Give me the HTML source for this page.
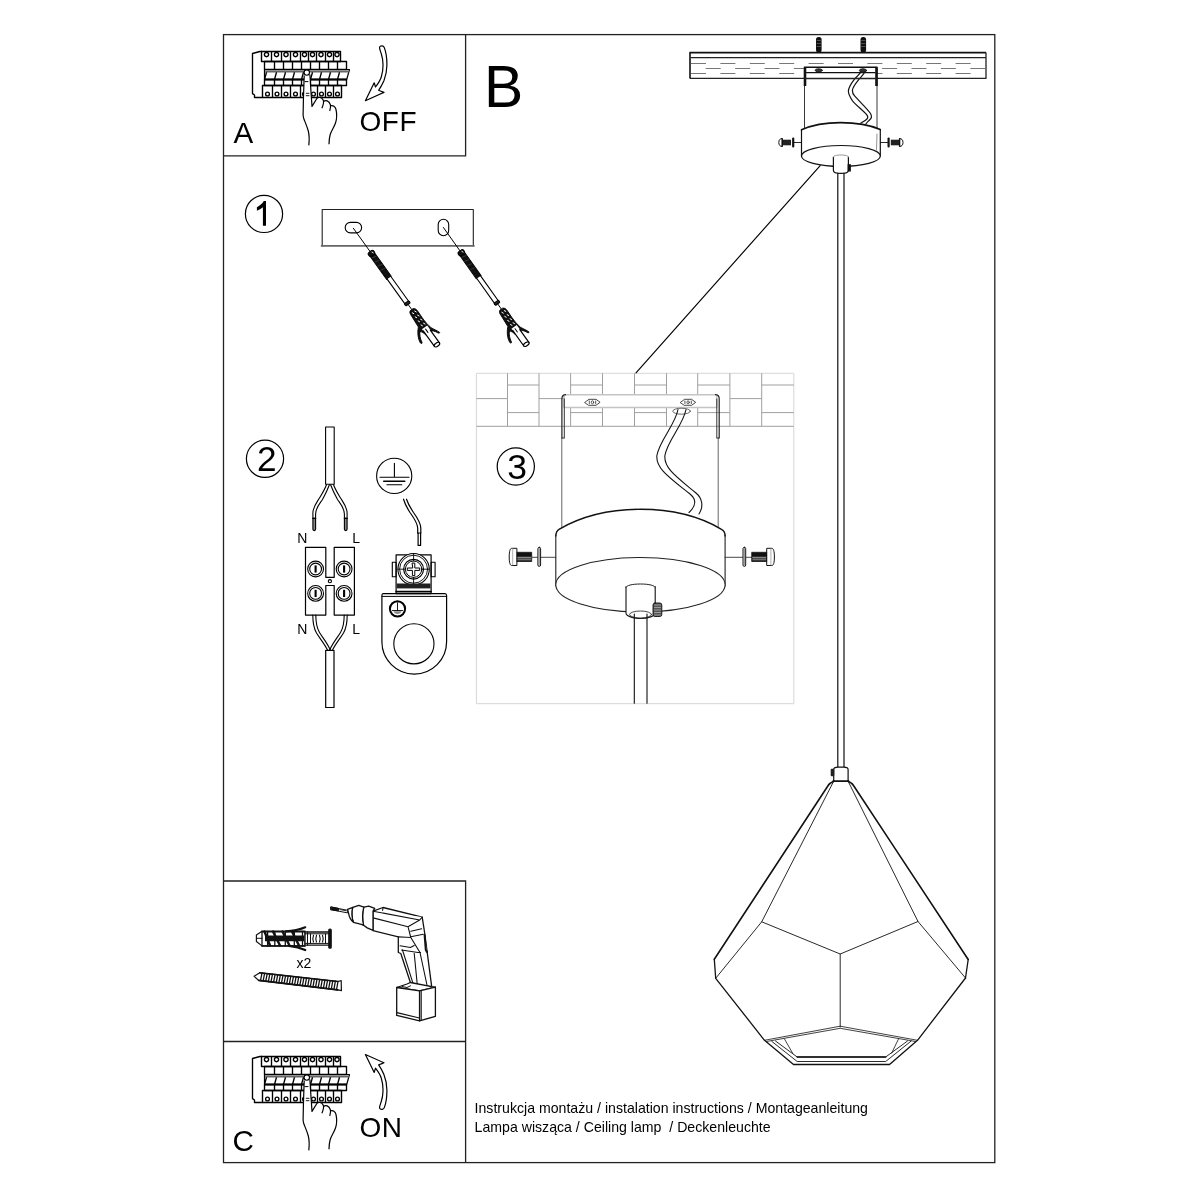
<!DOCTYPE html>
<html><head><meta charset="utf-8">
<style>
html,body{margin:0;padding:0;background:#fff;width:1200px;height:1200px;overflow:hidden}
svg{display:block;font-family:"Liberation Sans",sans-serif;will-change:transform}
text{font-family:"Liberation Sans",sans-serif;fill:#000}
</style></head><body>
<svg width="1200" height="1200" viewBox="0 0 1200 1200" fill="none" stroke="#000" stroke-linejoin="round" stroke-linecap="round">

<g id="frame" stroke="#222" stroke-width="1.3" stroke-linecap="butt" stroke-linejoin="miter">
<rect x="223.5" y="34.6" width="771.3" height="1128"/>
<path d="M223.5 155.8H465.6V34.6"/>
<path d="M223.5 881H465.6V1162.6"/>
<path d="M223.5 1041.5H465.6"/>
</g>
<g transform="translate(0,0)" stroke-width="1.35" stroke-linecap="butt">
<path d="M262.5 97.5H254.5V95L252.5 93.6V53.5L259.9 51.5H262"/>
<rect x="261.5" y="51.5" width="79" height="10" stroke-width="1.4"/>
<path d="M271.5 51.5V61.5M281.5 51.5V61.5M290.5 51.5V61.5M300.5 51.5V61.5M308.5 51.5V61.5M316.5 51.5V61.5M325.5 51.5V61.5M333.5 51.5V61.5"/>
<circle cx="266.5" cy="54.6" r="2.1"/>
<circle cx="276.5" cy="54.6" r="2.1"/>
<circle cx="286" cy="54.6" r="2.1"/>
<circle cx="295.5" cy="54.6" r="2.1"/>
<circle cx="304.5" cy="54.6" r="2.1"/>
<circle cx="312.5" cy="54.6" r="2.1"/>
<circle cx="321" cy="54.6" r="2.1"/>
<circle cx="329.5" cy="54.6" r="2.1"/>
<circle cx="337" cy="54.6" r="2.1"/>
<rect x="264.5" y="61.5" width="82" height="8"/>
<path d="M274.5 61.5V69.5M283.5 61.5V69.5M292.5 61.5V69.5M301.5 61.5V69.5M310.5 61.5V69.5M319.5 61.5V69.5M328.5 61.5V69.5M337.5 61.5V69.5"/>
<path d="M264.5 69.5H349.5L346.7 79.5H264.5Z" stroke-width="1.2"/>
<path d="M265.2 71.5H348.9" stroke="#666" stroke-width="1.8"/>
<path d="M266.5 72.2L264.5 79.5M276.5 72.2L274.5 79.5M285.5 72.2L283.5 79.5M294.5 72.2L292.5 79.5M303.5 72.2L301.5 79.5M312.5 72.2L310.5 79.5M321.5 72.2L319.5 79.5M330.5 72.2L328.5 79.5M339.5 72.2L337.5 79.5"/>
<path d="M264.5 79.5H346.7" stroke-width="2.2"/>
<rect x="264.5" y="79.5" width="82" height="6"/>
<path d="M274.5 79.5V85.5M283.5 79.5V85.5M292.5 79.5V85.5M301.5 79.5V85.5M310.5 79.5V85.5M319.5 79.5V85.5M328.5 79.5V85.5M337.5 79.5V85.5"/>
<rect x="262.5" y="85.5" width="79" height="12" stroke-width="1.4"/>
<path d="M272.5 85.5V97.5M281.5 85.5V97.5M290.5 85.5V97.5M300.5 85.5V97.5M308.5 85.5V97.5M317.5 85.5V97.5M325.5 85.5V97.5M333.5 85.5V97.5"/>
<circle cx="267.5" cy="94" r="1.9"/>
<circle cx="277" cy="94" r="1.9"/>
<circle cx="286" cy="94" r="1.9"/>
<circle cx="295.5" cy="94" r="1.9"/>
<circle cx="304.5" cy="94" r="1.9"/>
<circle cx="313.5" cy="94" r="1.9"/>
<circle cx="321.5" cy="94" r="1.9"/>
<circle cx="329.5" cy="94" r="1.9"/>
<circle cx="337.5" cy="94" r="1.9"/>
<path d="M308.8 146L309.2 138C309 133 306.5 126 304.5 121C303.5 118 303.1 116 303.1 114.6L303.4 100L304.2 75.5C304.6 73 305.5 71.5 307 71.5C308.8 71.5 309.8 72.8 309.9 74.5L311 92L312 106.4L317 98.3C318.5 96.8 321.5 96.8 323.3 100C325 98.8 328.5 99.5 330.4 104.8C332.5 104.6 335 106 335.8 109C337 113 336.8 119 335.5 123C334 127.5 331 131 330 135C329.2 138.5 329 142 329 146Z" fill="#fff" stroke="none"/>
<path d="M308.8 145.4C309.4 140 309.3 135 308.3 131C307 126 304.5 121 303.6 118C303.1 116 303.1 114.6 303.1 114.6L303.4 100L304.2 75.5" stroke-width="1.2"/>
<path d="M309.9 74.5L311 92L312 106.4L317 98.3C318.5 96.8 321.5 96.8 323.3 100.2C324.2 102.5 323 105.5 321.9 108.2" stroke-width="1.2"/>
<path d="M323.5 101.5C325.5 99.6 329 100.5 330.4 104.8C331 107 330.3 109 329.7 111" stroke-width="1.2"/>
<path d="M330.6 105.8C333 105 335.3 106.5 336 109.5C337 114 336.8 119 335.5 123C334 127.5 331.5 130.5 330.2 134.5C329.3 138 329 141 329 144.3" stroke-width="1.2"/>
<circle cx="306.8" cy="72.6" r="2.7" fill="#fff" stroke-width="1.1"/>
<path d="M304.6 81.6H308.4" stroke-width="1"/>
<path d="M305.8 93.3H309.4M305.8 95.7H309.4" stroke-width="0.9"/>
</g>
<g transform="translate(0,1005)" stroke-width="1.35" stroke-linecap="butt">
<path d="M262.5 97.5H254.5V95L252.5 93.6V53.5L259.9 51.5H262"/>
<rect x="261.5" y="51.5" width="79" height="10" stroke-width="1.4"/>
<path d="M271.5 51.5V61.5M281.5 51.5V61.5M290.5 51.5V61.5M300.5 51.5V61.5M308.5 51.5V61.5M316.5 51.5V61.5M325.5 51.5V61.5M333.5 51.5V61.5"/>
<circle cx="266.5" cy="54.6" r="2.1"/>
<circle cx="276.5" cy="54.6" r="2.1"/>
<circle cx="286" cy="54.6" r="2.1"/>
<circle cx="295.5" cy="54.6" r="2.1"/>
<circle cx="304.5" cy="54.6" r="2.1"/>
<circle cx="312.5" cy="54.6" r="2.1"/>
<circle cx="321" cy="54.6" r="2.1"/>
<circle cx="329.5" cy="54.6" r="2.1"/>
<circle cx="337" cy="54.6" r="2.1"/>
<rect x="264.5" y="61.5" width="82" height="8"/>
<path d="M274.5 61.5V69.5M283.5 61.5V69.5M292.5 61.5V69.5M301.5 61.5V69.5M310.5 61.5V69.5M319.5 61.5V69.5M328.5 61.5V69.5M337.5 61.5V69.5"/>
<path d="M264.5 69.5H349.5L346.7 79.5H264.5Z" stroke-width="1.2"/>
<path d="M265.2 71.5H348.9" stroke="#666" stroke-width="1.8"/>
<path d="M266.5 72.2L264.5 79.5M276.5 72.2L274.5 79.5M285.5 72.2L283.5 79.5M294.5 72.2L292.5 79.5M303.5 72.2L301.5 79.5M312.5 72.2L310.5 79.5M321.5 72.2L319.5 79.5M330.5 72.2L328.5 79.5M339.5 72.2L337.5 79.5"/>
<path d="M264.5 79.5H346.7" stroke-width="2.2"/>
<rect x="264.5" y="79.5" width="82" height="6"/>
<path d="M274.5 79.5V85.5M283.5 79.5V85.5M292.5 79.5V85.5M301.5 79.5V85.5M310.5 79.5V85.5M319.5 79.5V85.5M328.5 79.5V85.5M337.5 79.5V85.5"/>
<rect x="262.5" y="85.5" width="79" height="12" stroke-width="1.4"/>
<path d="M272.5 85.5V97.5M281.5 85.5V97.5M290.5 85.5V97.5M300.5 85.5V97.5M308.5 85.5V97.5M317.5 85.5V97.5M325.5 85.5V97.5M333.5 85.5V97.5"/>
<circle cx="267.5" cy="94" r="1.9"/>
<circle cx="277" cy="94" r="1.9"/>
<circle cx="286" cy="94" r="1.9"/>
<circle cx="295.5" cy="94" r="1.9"/>
<circle cx="304.5" cy="94" r="1.9"/>
<circle cx="313.5" cy="94" r="1.9"/>
<circle cx="321.5" cy="94" r="1.9"/>
<circle cx="329.5" cy="94" r="1.9"/>
<circle cx="337.5" cy="94" r="1.9"/>
<path d="M308.8 146L309.2 138C309 133 306.5 126 304.5 121C303.5 118 303.1 116 303.1 114.6L303.4 100L304.2 75.5C304.6 73 305.5 71.5 307 71.5C308.8 71.5 309.8 72.8 309.9 74.5L311 92L312 106.4L317 98.3C318.5 96.8 321.5 96.8 323.3 100C325 98.8 328.5 99.5 330.4 104.8C332.5 104.6 335 106 335.8 109C337 113 336.8 119 335.5 123C334 127.5 331 131 330 135C329.2 138.5 329 142 329 146Z" fill="#fff" stroke="none"/>
<path d="M308.8 145.4C309.4 140 309.3 135 308.3 131C307 126 304.5 121 303.6 118C303.1 116 303.1 114.6 303.1 114.6L303.4 100L304.2 75.5" stroke-width="1.2"/>
<path d="M309.9 74.5L311 92L312 106.4L317 98.3C318.5 96.8 321.5 96.8 323.3 100.2C324.2 102.5 323 105.5 321.9 108.2" stroke-width="1.2"/>
<path d="M323.5 101.5C325.5 99.6 329 100.5 330.4 104.8C331 107 330.3 109 329.7 111" stroke-width="1.2"/>
<path d="M330.6 105.8C333 105 335.3 106.5 336 109.5C337 114 336.8 119 335.5 123C334 127.5 331.5 130.5 330.2 134.5C329.3 138 329 141 329 144.3" stroke-width="1.2"/>
<circle cx="306.8" cy="72.6" r="2.7" fill="#fff" stroke-width="1.1"/>
<path d="M304.6 81.6H308.4" stroke-width="1"/>
<path d="M305.8 93.3H309.4M305.8 95.7H309.4" stroke-width="0.9"/>
</g>
<path d="M379.6 48.2C379.3 46.5 380.6 45.8 381.8 45.8C383 45.8 383.9 46.5 384.3 47.6C386 52 387 58.5 386.9 65.3C386.8 71 385.8 76 384 80.5C382.5 84 380.6 87.5 378.6 90.3L384 92.4L365.4 100.7L374.2 82.8L375.5 87C377.8 84 380.2 80.5 381.3 77C382.6 73 383.1 68.5 383 64.2C382.9 60 382.2 56.5 381.2 53.5C380.5 51.5 379.8 49.7 379.6 48.2Z" stroke-width="1.2" fill="#fff"/>
<path d="M379.6 48.2C379.3 46.5 380.6 45.8 381.8 45.8C383 45.8 383.9 46.5 384.3 47.6C386 52 387 58.5 386.9 65.3C386.8 71 385.8 76 384 80.5C382.5 84 380.6 87.5 378.6 90.3L384 92.4L365.4 100.7L374.2 82.8L375.5 87C377.8 84 380.2 80.5 381.3 77C382.6 73 383.1 68.5 383 64.2C382.9 60 382.2 56.5 381.2 53.5C380.5 51.5 379.8 49.7 379.6 48.2Z" stroke-width="1.2" fill="#fff" transform="translate(0,1155.2) scale(1,-1)"/>
<g stroke="none" fill="#000">
<text x="233.5" y="142.9" font-size="29.6">A</text>
<text x="359.5" y="130.9" font-size="28" letter-spacing="0.5">OFF</text>
<text x="484" y="106.5" font-size="58.8">B</text>
<text x="232.5" y="1150.6" font-size="29.6">C</text>
<text x="359.6" y="1136.9" font-size="28" letter-spacing="0.3">ON</text>
<text x="474.6" y="1112.9" font-size="14.13" fill="#111">Instrukcja montażu / instalation instructions / Montageanleitung</text>
<text x="474.6" y="1131.6" font-size="14.13" fill="#111" xml:space="preserve">Lampa wisząca / Ceiling lamp  / Deckenleuchte</text>
</g>
<g stroke-width="1.2">
<circle cx="264" cy="213.9" r="18.6"/>
<circle cx="265" cy="458.8" r="18.6"/>
<circle cx="515.8" cy="466.5" r="18.6"/>
</g>
<g stroke="none" fill="#000" text-anchor="middle">
<path d="M262.9 225.8V207.3C261.2 208.8 259 210.1 256.9 210.8V207.2C259.6 206 262.3 203.6 263.8 201H266V225.8Z" fill="#000" stroke="none"/>
<text x="266.8" y="471" font-size="35.2">2</text>
<text x="517" y="479" font-size="35.5">3</text>
</g>
<g stroke-width="1.1">
<path d="M322.2 246V209.5H473.3V246" stroke="#222"/>
<path d="M321.6 245.9H473.9" stroke="#666" stroke-width="1.8"/>
<rect x="345.2" y="222.4" width="16.4" height="10.5" rx="5.2"/>
<rect x="438.2" y="219.3" width="10.5" height="16.4" rx="5.2"/>
</g>
<g transform="translate(353.4,228.3) rotate(54.3)" stroke-width="1">
<path d="M0 0H30" stroke-width="0.9"/>
<path d="M30 -2.8H61V2.8H30Z" fill="#111" stroke-width="1"/>
<rect x="28.6" y="-3.3" width="4.6" height="6.6" rx="2" fill="#111" stroke-width="1"/>
<path d="M30.2 -1.2L31.4 -1.8" stroke="#fff" stroke-width="0.8"/>
<path d="M36 -2.2L35 2.2M41 -2.2L40 2.2M46 -2.2L45 2.2M51 -2.2L50 2.2" stroke="#555" stroke-width="0.5"/>
<path d="M61 -2.3H92.4V2.3H61" fill="#fff" stroke-width="1.1"/>
<rect x="91" y="-2.8" width="2.8" height="5.6" rx="1" fill="#222" stroke-width="1"/>
<path d="M93.8 0H100" stroke-width="0.9"/>
<path d="M100.2 -1.8C100.8 -3.4 102.5 -3.9 105.5 -3.9L113 -3.7C118 -3.7 122 -4.1 126 -5.1C129 -6.4 132 -8.4 134.5 -9.2C135.5 -9.4 135.5 -8.1 134 -7.5C131 -6.2 129 -4.5 128.5 -2.2V3.5C126.5 3.8 124 4.8 122.5 6C125 8.5 128.5 10.2 132.5 10.8C134 11 133.5 12.5 132 12.5C127 12 122 9 118 4.8L105.5 4C102.5 4 100.8 3.6 100.2 2Z" fill="#111" stroke-width="0.8"/>
<path d="M103 -1.5L104.5 -2.2M108 -1.5L109.5 -2.2M113 -1.5L114.5 -2.2M118 -1.6L119.5 -2.3M103 1.5L104.5 0.8M108 1.5L109.5 0.8M113 1.5L114.5 0.8M118 1.5L119.5 0.8M123 1.5L124.5 0.8M123 -1.6L124.5 -2.3" stroke="#fff" stroke-width="0.9"/>
<path d="M122 -3.2H143.2V3.2H122Z" fill="#fff" stroke="none"/>
<path d="M127.5 -3.1H143.2M124 3.1H143.2" stroke-width="1.2"/>
<path d="M124 0.2H128" stroke-width="1"/>
<ellipse cx="143.2" cy="0" rx="1.7" ry="3.1" fill="#fff" stroke-width="1.2"/>
</g>
<g transform="translate(443.4,227.5) rotate(54.6)" stroke-width="1">
<path d="M0 0H30" stroke-width="0.9"/>
<path d="M30 -2.8H61V2.8H30Z" fill="#111" stroke-width="1"/>
<rect x="28.6" y="-3.3" width="4.6" height="6.6" rx="2" fill="#111" stroke-width="1"/>
<path d="M30.2 -1.2L31.4 -1.8" stroke="#fff" stroke-width="0.8"/>
<path d="M36 -2.2L35 2.2M41 -2.2L40 2.2M46 -2.2L45 2.2M51 -2.2L50 2.2" stroke="#555" stroke-width="0.5"/>
<path d="M61 -2.3H92.4V2.3H61" fill="#fff" stroke-width="1.1"/>
<rect x="91" y="-2.8" width="2.8" height="5.6" rx="1" fill="#222" stroke-width="1"/>
<path d="M93.8 0H100" stroke-width="0.9"/>
<path d="M100.2 -1.8C100.8 -3.4 102.5 -3.9 105.5 -3.9L113 -3.7C118 -3.7 122 -4.1 126 -5.1C129 -6.4 132 -8.4 134.5 -9.2C135.5 -9.4 135.5 -8.1 134 -7.5C131 -6.2 129 -4.5 128.5 -2.2V3.5C126.5 3.8 124 4.8 122.5 6C125 8.5 128.5 10.2 132.5 10.8C134 11 133.5 12.5 132 12.5C127 12 122 9 118 4.8L105.5 4C102.5 4 100.8 3.6 100.2 2Z" fill="#111" stroke-width="0.8"/>
<path d="M103 -1.5L104.5 -2.2M108 -1.5L109.5 -2.2M113 -1.5L114.5 -2.2M118 -1.6L119.5 -2.3M103 1.5L104.5 0.8M108 1.5L109.5 0.8M113 1.5L114.5 0.8M118 1.5L119.5 0.8M123 1.5L124.5 0.8M123 -1.6L124.5 -2.3" stroke="#fff" stroke-width="0.9"/>
<path d="M122 -3.2H143.2V3.2H122Z" fill="#fff" stroke="none"/>
<path d="M127.5 -3.1H143.2M124 3.1H143.2" stroke-width="1.2"/>
<path d="M124 0.2H128" stroke-width="1"/>
<ellipse cx="143.2" cy="0" rx="1.7" ry="3.1" fill="#fff" stroke-width="1.2"/>
</g>
<g stroke-width="1.1">
<path d="M325.6 484.3V427H334.2V484.3Z" fill="#fff"/>
<path d="M326.5 484.8C324.5 490 322 494 319.5 498C316 503.5 313 507 312.9 513V518.3M329.4 484.8C327.5 490 325 495 322.5 499.5C319 504.5 315.7 508 315.6 514V518.3" stroke-width="1.1"/>
<path d="M333.5 484.8C335.5 490 338 494 340.5 498C344 503.5 347 507 347.1 513V518.3M330.6 484.8C332.5 490 335 495 337.5 499.5C341 504.5 344.3 508 344.4 514V518.3" stroke-width="1.1"/>
<path d="M312.9 518.3V529.3C312.9 531 315.6 531 315.6 529.3V518.3ZM344.4 518.3V529.3C344.4 531 347.1 531 347.1 529.3V518.3Z" fill="#888" stroke-width="1.1"/>
<path d="M312.9 518.3H315.6M344.4 518.3H347.1" stroke-width="1.3"/>
<path d="M305.5 547.3H325.8V577.3H334.2V547.3H354.4V615.1H334.2V585.5H325.8V615.1H305.5Z" stroke-width="1.2"/>
<circle cx="329.9" cy="581.2" r="1.6"/>
<circle cx="315.6" cy="569" r="7.9" stroke-width="1.1"/><circle cx="315.6" cy="569" r="5.9" stroke-width="1.1"/>
<path d="M315.6 565.4V572.6" stroke-width="2.1" stroke-linecap="butt"/>
<circle cx="315.6" cy="593.4" r="7.9" stroke-width="1.1"/><circle cx="315.6" cy="593.4" r="5.9" stroke-width="1.1"/>
<path d="M315.6 589.8V597" stroke-width="2.1" stroke-linecap="butt"/>
<circle cx="344.1" cy="569" r="7.9" stroke-width="1.1"/><circle cx="344.1" cy="569" r="5.9" stroke-width="1.1"/>
<path d="M344.1 565.4V572.6" stroke-width="2.1" stroke-linecap="butt"/>
<circle cx="344.1" cy="593.4" r="7.9" stroke-width="1.1"/><circle cx="344.1" cy="593.4" r="5.9" stroke-width="1.1"/>
<path d="M344.1 589.8V597" stroke-width="2.1" stroke-linecap="butt"/>
<path d="M312.8 615.1C312.8 622 313.5 628 316.5 633C319.5 638 324 643 327.5 650M315.8 615.1C315.8 622 316.5 627.5 319.5 632.5C322.5 637.5 327 642.5 330.3 650" stroke-width="1.1"/>
<path d="M347.2 615.1C347.2 622 346.5 628 343.5 633C340.5 638 336 643 332.5 650M344.2 615.1C344.2 622 343.5 627.5 340.5 632.5C337.5 637.5 333 642.5 329.7 650" stroke-width="1.1"/>
<path d="M325.7 650.3V707.5H334V650.3Z" fill="#fff" stroke-width="1.2"/>
<circle cx="394.2" cy="475.9" r="17.6"/>
<path d="M394.4 463.3V477.3M380 477.3H409M386.9 484.7H401.8" stroke-width="1.1"/>
<path d="M383.7 481.2H404.8" stroke-width="1.5"/>
<path d="M403.5 499.2C405 504 407 508 410 512.5C414 518 417.5 523 417.7 528V533M406.5 499.2C408 503.5 410.5 508 413.5 512.5C417.5 518 420.7 522.5 420.8 528V533" stroke-width="1.2"/>
<path d="M417.7 533H420.8M418.1 533V545.4H420.6V533" stroke-width="1.2"/>
<path d="M383 593.6H445C446 593.6 446.6 594.3 446.6 595.5V641.8A32.35 32.35 0 0 1 381.9 641.8V595.5C381.9 594.3 382.3 593.6 383 593.6Z" fill="#fff" stroke-width="1.2"/>
<path d="M382.2 596.4H446.3" stroke-width="1"/>
<circle cx="413.9" cy="643.8" r="20.1" stroke-width="1.1"/>
<circle cx="397.5" cy="608.8" r="7.6" stroke-width="2"/>
<path d="M397.5 602.8V610.5M392.5 610.5H402.5" stroke-width="0.9"/>
<path d="M393.5 611.2H401.5C401 613 399.5 614 397.5 614C395.5 614 394 613 393.5 611.2Z" fill="#888" stroke="none"/>
<rect x="396.1" y="554.9" width="35" height="38.7" fill="#fff" stroke-width="1.2"/>
<rect x="392.3" y="562.2" width="3.8" height="14.6" stroke-width="1.1"/><rect x="431.1" y="562.2" width="4" height="14.6" stroke-width="1.1"/>
<circle cx="413.6" cy="569.2" r="15.7" fill="#fff" stroke-width="1.1"/><circle cx="413.6" cy="569.2" r="14" stroke-width="0.9"/>
<circle cx="413.6" cy="569.2" r="9.9" stroke-width="1.2"/><circle cx="413.6" cy="569.2" r="8.2" stroke-width="1"/>
<path d="M413.6 553.5V561M413.6 577.4V585M397.9 569.2H405.4M421.8 569.2H429.3" stroke-width="0.9"/>
<path d="M412.4 563.1H414.8V568H419.7V570.4H414.8V575.6H412.4V570.4H407.3V568H412.4Z" fill="#fff" stroke-width="1"/>
<rect x="396.7" y="583.5" width="33.8" height="4.9" fill="#222" stroke="none"/>
<path d="M396.1 591.6H431.1" stroke-width="1.6"/>
</g>
<g stroke="none" fill="#000" font-size="14">
<text x="297.3" y="542.9">N</text><text x="352.2" y="542.9">L</text>
<text x="297.3" y="633.6">N</text><text x="352.2" y="633.6">L</text>
</g>
<g stroke="#a0a0a0" stroke-width="1" stroke-linecap="butt">
<rect x="476.4" y="373.3" width="317.4" height="330.4" stroke="#d6d6d6"/>
<path d="M476.4 426.3H793.8M507.5 373.3V426.3M539 373.3V426.3M570.6 373.3V426.3M602.5 373.3V426.3M634.5 373.3V426.3M666.5 373.3V426.3M697.7 373.3V426.3M729.9 373.3V426.3M761.7 373.3V426.3M476.4 398.6H507.5M507.5 385H539 M507.5 412.6H539M539 398.6H570.6M570.6 385H602.5 M570.6 412.6H602.5M602.5 398.6H634.5M634.5 385H666.5 M634.5 412.6H666.5M666.5 398.6H697.7M697.7 385H729.9 M697.7 412.6H729.9M729.9 398.6H761.7M761.7 385H793.8 M761.7 412.6H793.8"/>
</g>
<path d="M561.8 438V531M718.2 438V531" stroke="#555" stroke-width="0.9"/>
<rect x="564" y="394.8" width="152.8" height="12.7" fill="#fff" stroke="#c4c4c4" stroke-width="1.5"/>
<path d="M564 395.2V407" stroke="#bbb" stroke-width="1"/>
<path d="M561.9 438V398.5C561.9 396 563 394.8 565.5 394.6M719.2 438V398.5C719.2 396 718 394.8 715.5 394.6" fill="none" stroke="#222" stroke-width="1.2"/>
<path d="M564.3 438V399M716.8 438V399" fill="none" stroke="#333" stroke-width="1"/>
<path d="M562.3 438H564M717.2 438H718.8" stroke="#333" stroke-width="1"/>
<path d="M584.9 402.3L589 399.3H596 L600.1 402.3L596 405.3H589 Z" fill="#fff" stroke="#333" stroke-width="0.9"/>
<path d="M589.3 401V403.6M595.7 401V403.6" stroke="#444" stroke-width="0.9"/><ellipse cx="592.5" cy="402.3" rx="1.2" ry="1.5" fill="none" stroke="#333" stroke-width="0.8"/>
<path d="M680.5 402.3L684.6 399.3H691.6 L695.7 402.3L691.6 405.3H684.6 Z" fill="#fff" stroke="#333" stroke-width="0.9"/>
<path d="M684.9 401V403.6M691.3 401V403.6" stroke="#444" stroke-width="0.9"/><ellipse cx="688.1" cy="402.3" rx="1.2" ry="1.5" fill="none" stroke="#333" stroke-width="0.8"/>
<ellipse cx="681.6" cy="411.2" rx="8.8" ry="3" fill="none" stroke="#555" stroke-width="0.9"/>
<path d="M678 409.5C675 425 660 440 657 455C655 468 670 478 690 494C696 499 697 505 689 512.5M686 409.5C683 425 668 440 665 455C663 468 678 478 696 493C702 498 704 506 699 514" stroke="#111" stroke-width="1.1"/>
<path d="M555.8 535C556 532 557 530.5 559 529.3C582 516 611 509.3 640.5 509.3C671 509.3 699 516 721.5 529.3C723.8 530.5 725.1 532.5 725.1 535V585H555.8Z" fill="#fff" stroke="none"/>
<path d="M555.8 536C556 532 557 530.5 559 529.3C582 516 611 509.3 640.5 509.3C671 509.3 699 516 721.5 529.3C723.8 530.5 725.1 532.5 725.1 536" stroke="#111" stroke-width="1.4"/>
<path d="M555.8 535V586M725.1 535V586" stroke="#222" stroke-width="1.1"/>
<ellipse cx="640.45" cy="584.8" rx="84.65" ry="27.3" fill="#fff" stroke="#222" stroke-width="1.05"/>
<path d="M626 586.5V613C626 616 633 618.5 640.6 618.5C648 618.5 655.2 616 655.2 613V586.5" fill="#fff" stroke="#111" stroke-width="1.1"/>
<path d="M626 587.5C626 585.5 632 584 640.6 584C649 584 655.2 585.5 655.2 587.5" fill="#fff" stroke="#222" stroke-width="1"/>
<ellipse cx="640.6" cy="614.5" rx="11" ry="3.5" fill="none" stroke="#333" stroke-width="0.9"/>
<rect x="653" y="603" width="8.8" height="13.5" rx="2" fill="#555" stroke="#111" stroke-width="0.9"/>
<path d="M654.5 605H660.5M654.5 607.5H660.5M654.5 610H660.5M654.5 612.5H660.5M654.5 615H660.5" stroke="#ccc" stroke-width="0.6"/>
<path d="M634.3 614V703.2M647 614V703.2" stroke="#111" stroke-width="1.1"/>
<path d="M555.8 557.3H531.7" stroke="#333" stroke-width="0.9"/>
<rect x="537.9" y="547.3" width="2.7" height="19.1" rx="1.4" fill="#fff" stroke="#111" stroke-width="1"/>
<path d="M539.25 548.5V565.2" stroke="#555" stroke-width="0.7"/>
<rect x="516.5" y="552.3" width="15.2" height="9.2" fill="#111" stroke="#111" stroke-width="0.8"/>
<path d="M517.3 557.6H530.9" stroke="#888" stroke-width="1.6"/>
<path d="M517.3 559.8H530.9" stroke="#bbb" stroke-width="0.8"/>
<path d="M516.5 548.3H511.7 C510.2 548.3 509.2 551 509.2 557 C509.2 563 510.2 565.5 511.7 565.5H516.5 Z" fill="#fff" stroke="#111" stroke-width="1"/>
<path d="M512.7 548.8V565" stroke="#999" stroke-width="0.8"/>
<path d="M725.1 557.3H752" stroke="#333" stroke-width="0.9"/>
<rect x="743" y="547.3" width="2.7" height="19.1" rx="1.4" fill="#fff" stroke="#111" stroke-width="1"/>
<path d="M744.35 548.5V565.2" stroke="#555" stroke-width="0.7"/>
<rect x="752" y="552.3" width="15.1" height="9.2" fill="#111" stroke="#111" stroke-width="0.8"/>
<path d="M752.8 557.6H766.3" stroke="#888" stroke-width="1.6"/>
<path d="M752.8 559.8H766.3" stroke="#bbb" stroke-width="0.8"/>
<path d="M767.1 548.3H771.9 C773.4 548.3 774.4 551 774.4 557 C774.4 563 773.4 565.5 771.9 565.5H767.1 Z" fill="#fff" stroke="#111" stroke-width="1"/>
<path d="M770.9 548.8V565" stroke="#999" stroke-width="0.8"/>
<rect x="816" y="37" width="5.6" height="15.5" rx="2.5" fill="#111" stroke="none"/>
<path d="M817 40.5H820.6 M817 43.5H820.6 M817 46.5H820.6" stroke="#777" stroke-width="0.6"/>
<rect x="860.5" y="37" width="5.6" height="15.5" rx="2.5" fill="#111" stroke="none"/>
<path d="M861.5 40.5H865.1 M861.5 43.5H865.1 M861.5 46.5H865.1" stroke="#777" stroke-width="0.6"/>
<path d="M690 78.6V52.6H986" stroke="#111" stroke-width="1.6" stroke-linecap="butt"/>
<path d="M986 52.6V78.4H690" stroke="#222" stroke-width="1.3" stroke-linecap="butt"/>
<path d="M690.5 57.6H986" stroke="#222" stroke-width="1.3" stroke-linecap="butt"/>
<path d="M691 63.5H706 M691 73.5H706 M705.7 68.5H720.7 M720.4 63.5H735.4 M720.4 73.5H735.4 M735.1 68.5H750.1 M749.8 63.5H764.8 M749.8 73.5H764.8 M764.5 68.5H779.5 M779.2 63.5H794.2 M779.2 73.5H794.2 M793.9 68.5H808.9 M808.6 63.5H823.6 M808.6 73.5H823.6 M823.3 68.5H838.3 M838 63.5H853 M838 73.5H853 M852.7 68.5H867.7 M867.4 63.5H882.4 M867.4 73.5H882.4 M882.1 68.5H897.1 M896.8 63.5H911.8 M896.8 73.5H911.8 M911.5 68.5H926.5 M926.2 63.5H941.2 M926.2 73.5H941.2 M940.9 68.5H955.9 M955.6 63.5H970.6 M955.6 73.5H970.6 M970.3 68.5H985 M985 63.5H985 M985 73.5H985 " stroke="#777" stroke-width="1" stroke-linecap="butt"/>
<path d="M804.5 86V67.2H877V86" stroke="#111" stroke-width="1.6" stroke-linecap="butt" fill="#fff"/>
<path d="M805.2 67.5V86M876.3 67.5V86" stroke="#111" stroke-width="2.2" stroke-linecap="butt"/>
<path d="M806.5 72.6H875" stroke="#111" stroke-width="1.2"/>
<path d="M804.5 86V128M877 86V128" stroke="#222" stroke-width="0.9"/>
<ellipse cx="818.7" cy="70.3" rx="3.6" ry="1.6" fill="#333" stroke="#111" stroke-width="0.8"/>
<ellipse cx="863" cy="70.5" rx="3.6" ry="1.8" fill="#333" stroke="#111" stroke-width="0.8"/>
<path d="M860.7 72.3C858.5 75 856.5 77 854.3 79.3C851.5 83 848.6 87 848.4 90.9C848.3 94.5 850.5 97.8 852.5 100.8C856.5 105.5 862.5 110 866.5 114.3C868 116 867.8 118 867 119C865 121 862.5 122 860.7 123.2" stroke="#111" stroke-width="1.2"/>
<path d="M864.8 72C863.5 74.5 861.5 76.5 859.5 78.7C856.5 82.5 852.8 86.5 852.4 90.3C852.2 93 853.2 94.5 854.8 96.2C859 101 866.5 108 870.5 113.5C872 116 871.5 118.5 869.5 120C868 121.5 866.5 122.8 865.9 124" stroke="#111" stroke-width="1.2"/>
<path d="M804.5 78.5H877" stroke="#222" stroke-width="1.3" stroke-linecap="butt"/>
<path d="M801.5 129.8C812 125 826 122.6 840.5 122.6C856 122.6 870 125 880.3 129.5V156H801.5Z" fill="#fff" stroke="none"/>
<path d="M801.5 129.8C812 125 826 122.6 840.5 122.6C856 122.6 870 125 880.3 129.5" stroke="#111" stroke-width="1.6"/>
<path d="M801.5 129.8V156.5M880.3 129.5V156" stroke="#111" stroke-width="1.2"/>
<ellipse cx="840.9" cy="156" rx="39.4" ry="10.5" fill="#fff" stroke="#111" stroke-width="1.2"/>
<path d="M877 134L876.5 150" stroke="#777" stroke-width="0.8"/>
<path d="M833.4 157V170.5C833.4 172.3 836 173.4 840.9 173.4C845.8 173.4 848.4 172.3 848.4 170.5V157" fill="#fff" stroke="#111" stroke-width="1.2"/>
<path d="M833.4 157C833.4 155.8 836.5 155 840.9 155C845.3 155 848.4 155.8 848.4 157" fill="#fff" stroke="#888" stroke-width="0.9"/>
<rect x="847.6" y="164.2" width="3.3" height="7.3" fill="#111" stroke="none"/>
<path d="M801.5 142.5H794" stroke="#111" stroke-width="0.9"/>
<rect x="792.1" y="137.5" width="2.2" height="10" rx="1" fill="#111" stroke="none"/>
<rect x="782" y="139.7" width="9" height="5.6" fill="#222" stroke="none"/>
<path d="M782 138.5C780 138.5 778.8 140 778.8 142.5C778.8 145 780 146.5 782 146.5Z" fill="#fff" stroke="#111" stroke-width="1"/>
<path d="M782 138.5V146.5" stroke="#111" stroke-width="1"/>
<path d="M880.3 142.5H887.8" stroke="#111" stroke-width="0.9"/>
<rect x="887.5" y="137.5" width="2.2" height="10" rx="1" fill="#111" stroke="none"/>
<rect x="890.8" y="139.7" width="9" height="5.6" fill="#222" stroke="none"/>
<path d="M899.8 138.5C901.8 138.5 903 140 903 142.5C903 145 901.8 146.5 899.8 146.5Z" fill="#fff" stroke="#111" stroke-width="1"/>
<path d="M899.8 138.5V146.5" stroke="#111" stroke-width="1"/>
<path d="M820.2 165.6L636 372.8" stroke="#000" stroke-width="1.15"/>
<path d="M837.8 173V767M844 173V767" stroke="#111" stroke-width="1.2"/>
<path d="M833.7 781V769.5C833.7 768 835 767.2 838 767.2H844C847 767.2 848.1 768 848.1 769.5V781" fill="#fff" stroke="#111" stroke-width="1.2"/>
<rect x="830.7" y="768.7" width="3.6" height="7.6" rx="1" fill="#222" stroke="none"/>
<path d="M833.2 781.2H848.6" stroke="#111" stroke-width="1.8"/>
<path d="M714.3 959.3L715.7 978.3L764.5 1040.3L793.5 1064.5H889.5L917.5 1040.3L965.5 978L968.2 959.5" stroke="#111" stroke-width="1.3" fill="none"/>
<path d="M833.7 781.2C831 782.5 829.5 783.5 828.5 785L714.3 959.3M968.2 959.5L853.5 785.5C852.5 783.8 850.5 782.3 848.1 781.2" stroke="#111" stroke-width="1.6" fill="none"/>
<path d="M833.7 781.2L761.7 921.8L715.7 978.3M848.1 781.2L918 921.5L965.5 978M761.7 921.8L840.2 954L918 921.5M840.2 954L840.2 1027" stroke="#111" stroke-width="0.9"/>
<path d="M764.5 1040.3L840.2 1026.2L917.5 1040.3M766.5 1041.5L840.2 1028.3L915.5 1041.5" stroke="#111" stroke-width="0.8"/>
<path d="M771.7 1041.3L797.2 1061.5H885.7L911.2 1041M775.5 1041L797.2 1057H885.7L907.5 1041" stroke="#111" stroke-width="0.9"/>
<path d="M797.2 1057H885.7" stroke="#111" stroke-width="1.6"/>
<path d="M784.5 1039L792.7 1053.3M898.5 1039L891.7 1053" stroke="#111" stroke-width="0.8"/>
<g stroke="#111" stroke-width="1.2">
<path d="M262 931.3L256.4 935V941.5L262 945.9H305V932H262Z" fill="#fff"/>
<path d="M262 931.3H305M262 945.9H305" stroke-width="1.5"/>
<path d="M265 935.5H304V941.2H265Z" fill="#111" stroke="none"/>
<path d="M264.5 931.5L270 945.5M273 931.5L280 945.5M282.5 931.5L289.5 945.5M292 931.5L299 945.5" stroke-width="2.4"/>
<path d="M262 931.3V945.9M267.6 931.3V945.9M274.8 931.3V945.9M285.3 931.3V945.9M294.3 931.3V945.9M302.5 931.3V945.9" stroke-width="1.3"/>
<path d="M256.6 938.3H262" stroke-width="1"/>
<path d="M286 931.3C294 931 300 929.5 305.2 927.3" stroke-width="2.2"/>
<path d="M289 945.9C296 946.5 301 948 305.2 950" stroke-width="2.2"/>
<path d="M305 932H329.5V945.2H305Z" fill="#fff" stroke-width="1.3"/>
<path d="M305.5 933.8H328.5M305.5 943.4H328.5" stroke-width="1"/>
<path d="M307.5 932V945.2M310.5 933.8V943.4M325.5 933.8V943.4" stroke-width="1"/>
<path d="M313.5 935.2C312.8 937 312.8 940 313.5 942M316.5 935.2C315.8 937 315.8 940 316.5 942M319.5 935.2C320.2 937 320.2 940 319.5 942M322.5 935.2C323.2 937 323.2 940 322.5 942" stroke-width="1.1"/>
<rect x="328.8" y="929" width="2.4" height="19.2" rx="1" fill="#111"/>
</g>
<text x="296.5" y="967.8" font-size="14" stroke="none" fill="#111">x2</text>
<g stroke="#111">
<path d="M254.1 976.2L259.8 972.8L337.8 981.5L341.2 980.7L341.4 990.7L337.8 989.9L258.6 980.4Z" fill="#fff" stroke-width="1.2"/>
<path d="M262 973L260.5 980.6M264.62 973.29L263.12 980.92M267.24 973.59L265.74 981.24M269.86 973.88L268.36 981.56M272.48 974.17L270.98 981.88M275.1 974.47L273.6 982.2M277.72 974.76L276.22 982.52M280.34 975.05L278.84 982.84M282.97 975.34L281.47 983.17M285.59 975.64L284.09 983.49M288.21 975.93L286.71 983.81M290.83 976.22L289.33 984.13M293.45 976.52L291.95 984.45M296.07 976.81L294.57 984.77M298.69 977.1L297.19 985.09M301.31 977.4L299.81 985.41M303.93 977.69L302.43 985.73M306.55 977.98L305.05 986.05M309.17 978.28L307.67 986.37M311.79 978.57L310.29 986.69M314.41 978.86L312.91 987.01M317.03 979.16L315.53 987.33M319.66 979.45L318.16 987.66M322.28 979.74L320.78 987.98M324.9 980.03L323.4 988.3M327.52 980.33L326.02 988.62M330.14 980.62L328.64 988.94M332.76 980.91L331.26 989.26M335.38 981.21L333.88 989.58M338 981.5L336.5 989.9" stroke-width="1.3"/>
<path d="M259.8 972.8L337.8 981.5M258.6 980.4L337.8 989.9" stroke-width="1.6"/>
</g>
<g stroke="#111" stroke-width="1.3" fill="#fff">
<path d="M331 907.1L347.8 910.3L347.6 912.9L331 909.7Z" stroke-width="1"/>
<path d="M331.2 906.9L338.5 908.3L338.4 910.9L331.1 909.8Z" fill="#111" stroke-width="0.9"/>
<path d="M340 909.6L346 910.8" stroke-width="0.8"/>
<path d="M373 911.2L383 907.5L422.2 917.1L424.6 932.5L431.7 986.7L407.5 985L410.4 982.5L400.8 953.5L398.3 952.5V936.9L373 930.6Z"/>
<path d="M373 911.2L419.7 920L422.2 917.1M383 907.5L382.6 910.5M373 917.9L408 926.7L419.7 920M408 926.7L410.8 937.5L420 952.5M398.3 936.9L406.3 937.3L410.8 937.5" stroke-width="1.1"/>
<path d="M410.8 931.3L421.7 928.8M410.8 936.7L423.3 934.2" stroke-width="1.1"/>
<path d="M400 945.8L410.4 947.5L414.2 945.4M401.5 950L418 952.5H420.5" stroke-width="1.1"/>
<path d="M402.5 950L413 983.3M414.2 953.3L417.5 987M420 952.5L427.5 987.5" stroke-width="1.1"/>
<path d="M424.6 935L425.8 950L427 952" stroke-width="2"/>
<path d="M363.8 907.1L368.8 906.2L374.7 908.3L373 911.2V930.4L367.2 927.9L363.6 925.3C362.3 920 362.3 913 363.8 907.1Z"/>
<path d="M352.8 907.4L358.8 905.4L363.8 907.1C362.3 913 362.3 920 363.6 925.3L361.3 924.4L353.5 922.3C351.5 918 351.5 911 352.8 907.4Z"/>
<path d="M347.6 909.3L352.8 907.4C351.5 911 351.5 918 353.5 922.3C350.8 920.5 349 916 348.4 912.6Z"/>
<path d="M396.7 987.5L407 984L410.4 982.5L431.7 986.7L435.4 987.1L419.6 990.8Z"/>
<path d="M396.7 987.5L419.6 990.8V1020.8L396.7 1015.4Z"/>
<path d="M419.6 990.8L435.4 987.1V1016.3L419.6 1020.8Z"/>
<path d="M421.2 991V1020.3M396.9 1012.6L419.4 1018" stroke-width="1.1"/>
<path d="M402 986.5L407 987.5L410.5 985.8" stroke-width="1"/>
</g>
</svg>
</body></html>
